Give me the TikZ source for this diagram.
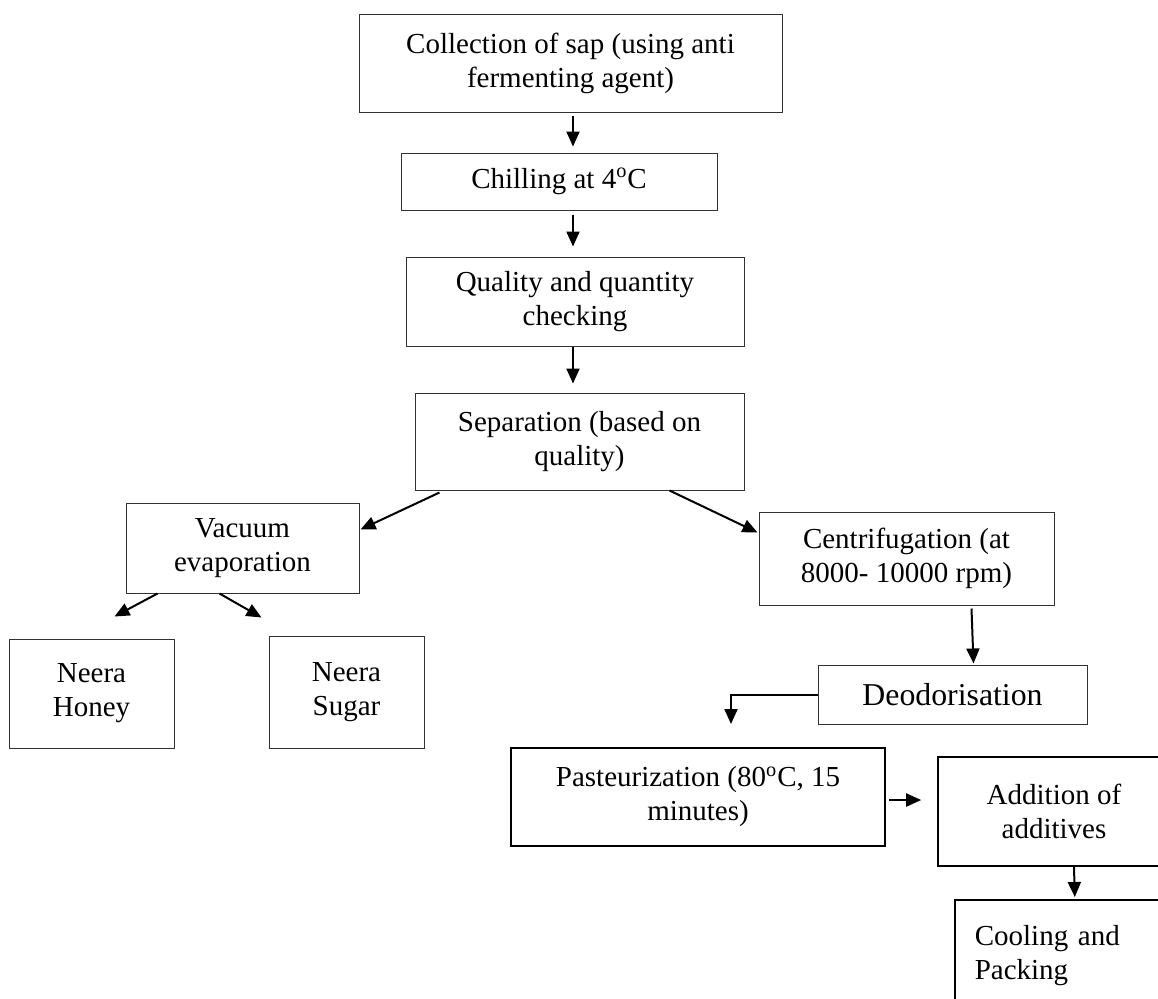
\documentclass[tikz,border=0pt]{standalone}
\usepackage{fontspec}
\setmainfont{Liberation Serif}
\usetikzlibrary{arrows.meta,calc}
\tikzset{
  % --- process steps ---------------------------------------------------------
  stepbox/.style={rectangle,draw=black!80,line width=0.5pt,align=center,
                  inner sep=0pt,font=\fontsize{14.5}{17}\selectfont},
  stepthick/.style={stepbox,draw=black,line width=1pt},
  % box size given in picture units (1 unit = 0.5pt)
  wh/.style 2 args={minimum width=#1*0.5pt,minimum height=#2*0.5pt},
  % --- flow arrows -----------------------------------------------------------
  flow/.style={-{Triangle[length=7.5pt,width=6.5pt]},line width=1pt,black},
}

\begin{document}
\begin{tikzpicture}[x=0.5pt, y=-0.5pt]
  \useasboundingbox (0,0) rectangle (1158,998);
  \clip (0,0) rectangle (1158,998);
  \fill[white] (0,0) rectangle (1158,998);

  % --- main line: sap to separation --------------------------------------
  \node[stepbox,wh={423}{98}] (sap)   at (570.5,63)   {Collection of sap (using anti\\fermenting agent)};
  \node[stepbox,wh={316}{57}] (chill) at (559,181.5)  {Chilling at 4\textsuperscript{o}C};
  \node[stepbox,wh={338}{89}] (check) at (575,301.5)  {Quality and quantity\\checking};
  \node[stepbox,wh={329}{97}] (sep)   at (579.5,441.5){Separation (based on\\quality)};

  % --- left branch: evaporation ------------------------------------------
  \node[stepbox,wh={233}{90}]  (vac)   at (242.5,548) {Vacuum\\evaporation};
  \node[stepbox,wh={165}{109}] (honey) at (91.5,693.5){Neera\\Honey};
  \node[stepbox,wh={155}{112}] (sugar) at (346.5,692) {Neera\\Sugar};

  % --- right branch: neera drink -----------------------------------------
  \node[stepbox,wh={295}{93}] (cen) at (906.5,558.5) {Centrifugation (at\\8000- 10000 rpm)};
  \node[stepbox,wh={269}{59},font=\fontsize{15.9}{19}\selectfont] (deo) at (952.5,694.5) {Deodorisation};
  \node[stepthick,wh={374}{98}] (past) at (698,797) {Pasteurization (80\textsuperscript{o}C, 15\\minutes)};
  \node[stepthick,line width=0.8pt,wh={232}{109}] (add) at (1054,811.5) {Addition of\\additives};
  % the last box runs off the page
  \node[stepthick,line width=0.8pt,anchor=north west,align=left,inner xsep=10pt,
        text width=93pt,minimum height=55.5pt] (cool) at (954,899) {Cooling and\\Packing};

  \draw[flow] ($(sap.south)+(2.5,3)$)    -- ($(chill.north)+(14,-6)$);
  \draw[flow] ($(chill.south)+(14,4)$)   -- ($(check.north)+(-2,-10)$);
  \draw[flow] ($(check.south)+(-2,0)$)   -- ($(sep.north)+(-6.5,-9)$);
  \draw[flow] ($(sep.south west)+(25,2)$)  -- ($(vac.north east)+(1,27)$);
  \draw[flow] ($(sep.south west)+(255,0)$) -- ($(cen.north west)+(-1,21)$);
  \draw[flow] ($(vac.south west)+(32,0)$)  -- ($(honey.north west)+(106,-22)$);
  \draw[flow] ($(vac.south west)+(94,0)$)  -- ($(sugar.north west)+(-7,-18)$);
  \draw[flow] ($(cen.south west)+(213,3)$) -- ($(deo.north west)+(156,-1)$);
  % elbow from deodorisation down to pasteurization
  \draw[flow] (deo.west) -| ($(past.north)+(33,-23)$);
  \draw[flow] ($(past.east)+(3,3)$) -- ($(add.west)+(-16,-11.5)$);
  \draw[flow] ($(add.south)+(20,0)$) -- ($(cool.north)+(7,-2)$);
\end{tikzpicture}
\end{document}
